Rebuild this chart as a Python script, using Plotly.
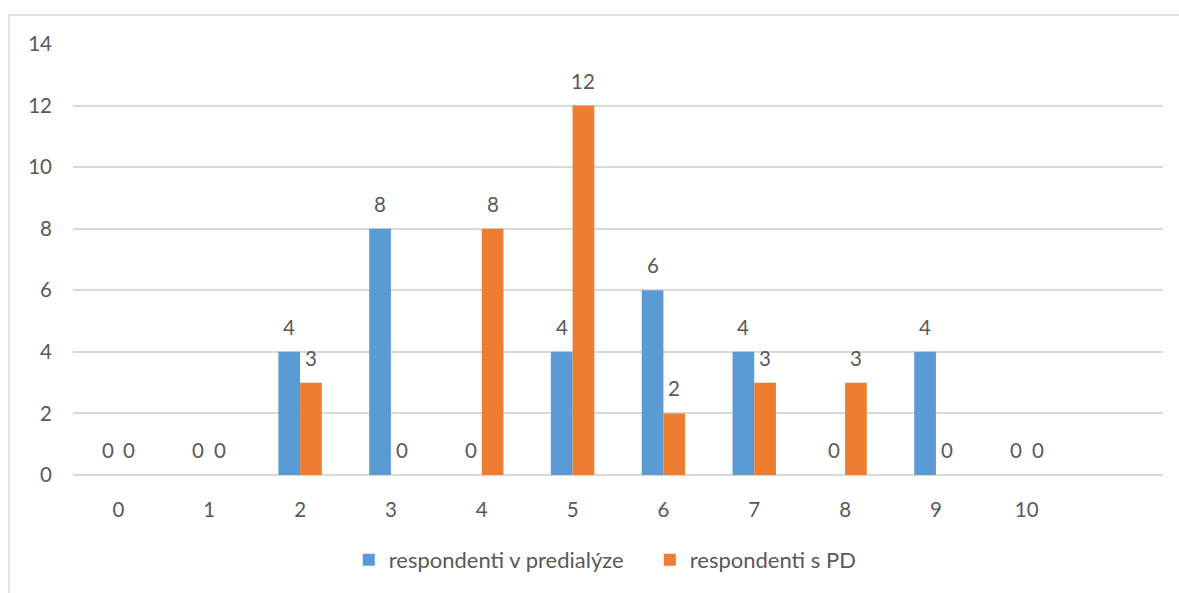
import plotly.graph_objects as go

# Score categories on the x axis (an extra empty slot keeps the right-hand padding)
categories = ["0", "1", "2", "3", "4", "5", "6", "7", "8", "9", "10"]
predialyza = [0, 0, 4, 8, 0, 4, 6, 4, 0, 4, 0]
pd_values = [0, 0, 3, 0, 8, 12, 2, 3, 3, 0, 0]
y_ticks = [0, 2, 4, 6, 8, 10, 12, 14]

BLUE = "#5B9BD5"
ORANGE = "#ED7D31"
TEXT = "#595959"
GRID = "#D9D9D9"
FONT = "Lato, Calibri, Carlito, sans-serif"
FS = 20.5
LEGEND_FS = 22

series = [
    ("respondenti v predialýze", predialyza, BLUE, -10.9),
    ("respondenti s PD", pd_values, ORANGE, 10.9),
]

fig = go.Figure()
for name, vals, color, _ in series:
    fig.add_trace(go.Bar(
        x=categories, y=vals, name=name,
        marker=dict(color=color, line=dict(width=0)),
        cliponaxis=False,
    ))

# Value labels above each bar, shifted onto the bar of their series
annotations = []
for _, vals, _, dx in series:
    for cat, v in zip(categories, vals):
        annotations.append(dict(
            x=cat, y=v, xref="x", yref="y", text=str(v),
            showarrow=False, xshift=dx, yshift=25,
            xanchor="center", yanchor="middle",
            font=dict(size=FS, color=TEXT, family=FONT),
        ))

fig.update_layout(
    width=1179, height=593,
    margin=dict(l=73, r=16, t=44, b=118),
    paper_bgcolor="white", plot_bgcolor="white",
    barmode="group", bargap=0.522, bargroupgap=0,
    font=dict(family=FONT, color=TEXT, size=FS),
    showlegend=True,
    legend=dict(orientation="h", x=0.253, xanchor="left",
                y=-0.197, yanchor="middle",
                font=dict(size=LEGEND_FS, color=TEXT, family=FONT),
                itemwidth=30, entrywidth=256, entrywidthmode="pixels",
                traceorder="normal"),
    xaxis=dict(
        type="category",
        categoryorder="array", categoryarray=categories + [" "],
        range=[-0.5, 11.5],
        showgrid=False, zeroline=False, showline=False,
        ticks="", ticklabelstandoff=20,
        tickfont=dict(size=FS, color=TEXT, family=FONT),
    ),
    yaxis=dict(
        range=[0, 14], tickvals=y_ticks,
        showgrid=True, gridcolor=GRID, gridwidth=1.5,
        zeroline=True, zerolinecolor=GRID, zerolinewidth=1.5,
        showline=False, ticks="", ticklabelstandoff=20,
        tickfont=dict(size=FS, color=TEXT, family=FONT),
    ),
    annotations=annotations,
    shapes=[dict(
        type="rect", xref="paper", yref="paper",
        x0=-0.0587, x1=1.2, y0=-0.5, y1=1.067,
        line=dict(color=GRID, width=1.5), fillcolor="rgba(0,0,0,0)",
        layer="below",
    )],
)

fig.write_html("out.html")
